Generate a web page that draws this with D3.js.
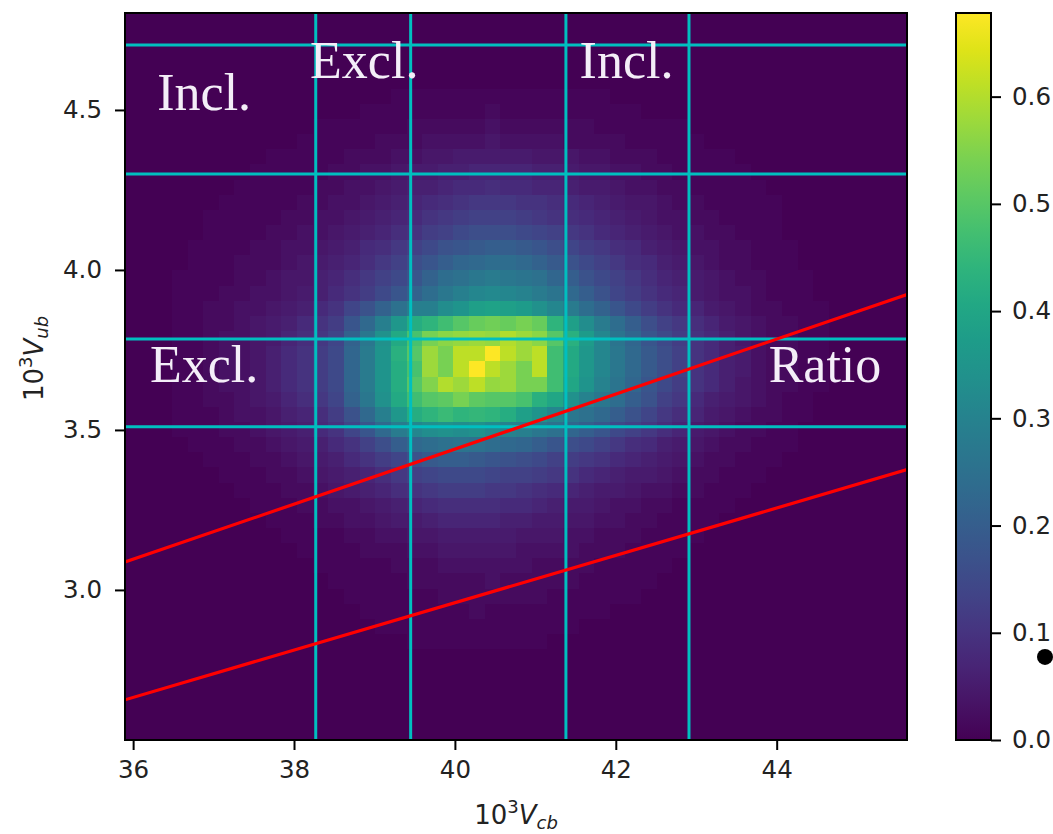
<!DOCTYPE html>
<html><head><meta charset="utf-8">
<script src="https://cdn.jsdelivr.net/npm/d3@7"></script>
<style>
body{margin:0;background:#fff;}
svg text{font-family:"DejaVu Sans",sans-serif;}
</style>
</head><body>
<svg id="chart" width="1053" height="834"></svg>
<script>
// ---------------- data ----------------
const vcbDomain = [35.899, 45.62];
const vubDomain = [2.531, 4.803];
const nBinsVcb = 50;
const nBinsVub = 48;
const colStart = 3;   // first column of histRows
const rowStart = 5;   // first row (from top) of histRows
// density values in hundredths, rows from top to bottom
const histRows = [
[0,0,0,0,0,0,0,0,0,0,0,0,0,0,1,1,1,1,1,1,1,1,1,1,1,1,1,1,0,0,0,0,0,0,0,0,0,0,0,0,0,0],
[0,0,0,0,0,0,0,0,0,0,0,0,1,1,1,1,1,1,1,1,2,1,1,1,1,1,1,1,1,1,0,0,0,0,0,0,0,0,0,0,0,0],
[0,0,0,0,0,0,0,0,0,1,1,1,1,1,1,2,2,2,2,2,3,2,2,2,2,2,2,1,1,1,1,1,1,0,0,0,0,0,0,0,0,0],
[0,0,0,0,0,0,0,0,1,1,1,1,1,2,2,2,3,3,3,3,4,3,3,3,3,2,2,2,2,1,1,1,1,1,0,0,0,0,0,0,0,0],
[0,0,0,0,0,0,1,1,1,1,1,2,2,2,3,3,4,4,5,5,5,5,5,4,4,4,3,3,2,2,2,1,1,1,1,1,0,0,0,0,0,0],
[0,0,0,0,0,1,1,1,1,1,2,2,3,3,4,5,5,6,6,7,7,7,7,6,6,5,4,4,3,3,2,2,1,1,1,1,1,0,0,0,0,0],
[0,0,0,0,1,1,1,1,1,2,2,3,3,4,5,6,6,7,8,8,9,8,8,7,7,6,5,5,4,3,3,2,2,1,1,1,1,1,0,0,0,0],
[0,0,0,1,1,1,1,1,2,2,3,3,4,5,6,7,8,9,10,11,11,11,10,10,9,8,7,6,5,4,4,3,2,2,1,1,1,1,1,0,0,0],
[0,0,1,1,1,1,1,2,2,3,3,4,5,6,7,8,10,11,12,13,13,13,12,11,10,9,8,7,6,5,4,3,3,2,2,1,1,1,1,0,0,0],
[0,0,1,1,1,1,2,2,3,3,4,5,6,7,9,10,12,13,15,16,16,16,15,14,13,11,10,8,7,6,5,4,3,3,2,2,1,1,1,0,0,0],
[0,1,1,1,1,2,2,3,3,4,5,6,8,9,11,13,15,17,18,19,20,20,19,18,16,14,12,11,9,8,6,5,4,3,3,2,2,1,1,1,0,0],
[0,1,1,1,2,2,2,3,4,5,6,7,9,11,13,16,18,20,22,23,24,24,23,21,19,17,15,13,11,9,8,6,5,4,3,2,2,1,1,1,0,0],
[1,1,1,1,2,2,3,4,4,6,7,9,11,13,15,18,21,24,25,27,28,27,26,25,22,20,17,15,13,11,9,7,6,5,4,3,2,2,1,1,1,0],
[1,1,1,2,2,3,3,4,5,6,8,10,12,15,18,21,24,27,29,31,32,31,30,28,26,23,20,17,14,12,10,8,7,5,4,3,3,2,1,1,1,0],
[1,1,2,2,3,3,4,5,6,8,10,14,17,21,25,29,29,33,35,38,39,38,37,34,31,28,24,21,18,15,12,10,8,7,5,4,3,2,2,1,1,1],
[1,1,2,2,3,4,5,6,8,10,12,18,23,29,36,42,44,47,50,52,53,52,54,52,44,38,33,28,24,20,16,13,11,9,7,5,4,3,2,2,1,1],
[1,1,2,3,3,4,5,7,9,11,14,21,27,34,41,48,54,56,57,58,57,60,58,56,50,43,37,31,26,22,18,15,12,10,8,6,4,3,2,2,1,1],
[1,1,2,3,3,4,6,8,10,12,15,22,28,35,43,50,58,54,61,61,68,61,58,61,47,41,36,31,27,23,19,16,13,10,8,6,5,3,2,2,1,1],
[1,1,2,3,3,4,6,8,10,12,15,22,28,35,42,48,58,54,61,68,61,58,54,61,47,41,36,31,27,23,19,16,13,10,8,6,5,3,2,2,1,1],
[1,1,2,3,3,4,6,8,10,12,15,22,28,35,42,50,55,60,58,61,57,58,54,54,47,40,35,30,26,22,18,15,12,10,8,6,4,3,2,2,1,1],
[1,1,2,2,3,4,5,7,9,11,14,21,27,34,41,47,50,51,54,51,50,50,48,43,40,34,30,27,24,20,17,13,11,8,6,5,4,3,2,1,1,0],
[1,1,1,2,3,3,4,6,7,9,12,17,23,29,36,42,44,46,44,45,44,42,38,35,31,27,25,23,20,17,14,11,9,7,5,4,3,2,2,1,1,0],
[1,1,1,2,2,3,4,5,6,8,10,14,18,23,28,31,33,34,33,34,32,30,29,27,25,22,20,18,15,13,11,9,7,5,4,3,2,2,1,1,0,0],
[0,1,1,1,2,2,3,4,5,6,8,10,13,16,20,23,24,25,26,25,24,23,22,20,18,16,15,13,11,9,8,6,5,4,3,2,2,1,1,1,0,0],
[0,0,1,1,1,2,2,3,4,5,6,8,10,12,14,17,19,20,20,19,18,17,16,15,13,12,11,10,8,7,6,5,4,3,2,2,1,1,1,0,0,0],
[0,0,0,1,1,1,2,2,3,4,5,6,7,9,11,13,14,15,15,15,14,13,13,12,11,10,8,7,6,5,5,4,3,2,2,1,1,1,0,0,0,0],
[0,0,0,0,1,1,1,2,2,3,4,5,6,7,9,10,11,12,12,12,11,11,10,9,8,7,6,5,5,4,3,3,2,2,1,1,1,0,0,0,0,0],
[0,0,0,0,0,1,1,1,2,2,3,3,4,5,6,7,8,9,9,9,9,8,8,7,6,5,5,4,3,3,2,2,1,1,1,1,0,0,0,0,0,0],
[0,0,0,0,0,0,1,1,1,2,2,3,3,4,5,5,6,7,7,7,7,6,6,5,5,4,4,3,3,2,2,1,1,1,1,0,0,0,0,0,0,0],
[0,0,0,0,0,0,0,1,1,1,1,2,2,3,3,4,4,5,5,5,5,5,4,4,4,3,3,2,2,2,1,1,1,1,0,0,0,0,0,0,0,0],
[0,0,0,0,0,0,0,0,1,1,1,1,2,2,2,3,3,4,4,4,4,4,3,3,3,3,2,2,2,1,1,1,1,0,0,0,0,0,0,0,0,0],
[0,0,0,0,0,0,0,0,0,1,1,1,1,1,2,2,2,3,3,3,3,3,3,2,2,2,2,1,1,1,1,1,0,0,0,0,0,0,0,0,0,0],
[0,0,0,0,0,0,0,0,0,0,1,1,1,1,1,2,2,2,2,2,3,2,2,2,2,2,1,1,1,1,1,0,0,0,0,0,0,0,0,0,0,0],
[0,0,0,0,0,0,0,0,0,0,0,1,1,1,1,1,1,2,2,2,2,2,2,2,1,1,1,1,1,1,0,0,0,0,0,0,0,0,0,0,0,0],
[0,0,0,0,0,0,0,0,0,0,0,0,1,1,1,1,1,1,1,2,1,1,1,1,1,1,1,1,0,0,0,0,0,0,0,0,0,0,0,0,0,0],
[0,0,0,0,0,0,0,0,0,0,0,0,0,1,1,1,1,1,1,1,1,1,1,1,1,1,0,0,0,0,0,0,0,0,0,0,0,0,0,0,0,0],
[0,0,0,0,0,0,0,0,0,0,0,0,0,0,0,1,1,1,1,1,1,1,1,1,0,0,0,0,0,0,0,0,0,0,0,0,0,0,0,0,0,0]
];
const colorMax = 0.678;
const vcbTicks = [36, 38, 40, 42, 44];
const vubTicks = [3.0, 3.5, 4.0, 4.5];
const cbarTicks = [0.0, 0.1, 0.2, 0.3, 0.4, 0.5, 0.6];
const vcbLines = [38.27, 39.45, 41.38, 42.91];
const vubLines = [3.51, 3.784, 4.30, 4.703];
const ratioLines = [0.074, 0.086];
const labelTexts = ["Incl.", "Excl.", "Incl.", "Excl.", "Ratio"];
const labelVcb = [36.30, 38.20, 41.55, 36.21, 43.90];
const labelVub = [4.50, 4.60, 4.60, 3.65, 3.65];
const markerValue = 0.0775;

// ---------------- layout ----------------
const plot = {l:125, t:13, r:907, b:740};
const cbar = {l:956, r:991, t:13, b:740};
const svg = d3.select("#chart");

const x = d3.scaleLinear().domain(vcbDomain).range([plot.l, plot.r]);
const y = d3.scaleLinear().domain(vubDomain).range([plot.b, plot.t]);
const cy = d3.scaleLinear().domain([0, colorMax]).range([cbar.b, cbar.t]);
const color = v => d3.interpolateViridis(Math.max(0, Math.min(1, v / colorMax)));

svg.append("defs").append("clipPath").attr("id","pclip")
  .append("rect").attr("x",plot.l).attr("y",plot.t)
  .attr("width",plot.r-plot.l).attr("height",plot.b-plot.t);

// heatmap cells
const dX = (vcbDomain[1]-vcbDomain[0])/nBinsVcb;
const dY = (vubDomain[1]-vubDomain[0])/nBinsVub;
const cells = [];
for (let j=0;j<nBinsVub;j++){
  for (let i=0;i<nBinsVcb;i++){
    const rr = j-rowStart, cc = i-colStart;
    let v = 0;
    if (rr>=0 && rr<histRows.length && cc>=0 && cc<histRows[rr].length) v = histRows[rr][cc]/100;
    cells.push({x0: vcbDomain[0]+i*dX, x1: vcbDomain[0]+(i+1)*dX,
                y1: vubDomain[1]-j*dY, y0: vubDomain[1]-(j+1)*dY, v});
  }
}
const gHeat = svg.append("g").attr("clip-path","url(#pclip)");
gHeat.selectAll("rect").data(cells).join("rect")
  .attr("x", d=>x(d.x0)).attr("y", d=>y(d.y1))
  .attr("width", d=>x(d.x1)-x(d.x0)+0.6)
  .attr("height", d=>y(d.y0)-y(d.y1)+0.6)
  .attr("fill", d=>color(d.v))
  .attr("shape-rendering","crispEdges");

// cyan lines
const gLines = svg.append("g").attr("clip-path","url(#pclip)");
gLines.selectAll("line.v").data(vcbLines).join("line").attr("class","v")
  .attr("x1",d=>x(d)).attr("x2",d=>x(d)).attr("y1",plot.t).attr("y2",plot.b)
  .attr("stroke","#00bfbf").attr("stroke-width",3);
gLines.selectAll("line.h").data(vubLines).join("line").attr("class","h")
  .attr("y1",d=>y(d)).attr("y2",d=>y(d)).attr("x1",plot.l).attr("x2",plot.r)
  .attr("stroke","#00bfbf").attr("stroke-width",3);
// red ratio lines
gLines.selectAll("line.r").data(ratioLines).join("line").attr("class","r")
  .attr("x1",x(vcbDomain[0])).attr("y1",d=>y(d*vcbDomain[0]))
  .attr("x2",x(vcbDomain[1])).attr("y2",d=>y(d*vcbDomain[1]))
  .attr("stroke","#ff0000").attr("stroke-width",3.2);

// labels
svg.append("g").selectAll("text").data(labelTexts).join("text")
  .attr("x",(d,i)=>x(labelVcb[i])).attr("y",(d,i)=>y(labelVub[i]))
  .text(d=>d)
  .style("font-family",'"Liberation Serif","Times New Roman",serif')
  .style("font-size","52px").attr("fill","#f4eef8");

// frame
svg.append("rect").attr("x",plot.l).attr("y",plot.t)
  .attr("width",plot.r-plot.l).attr("height",plot.b-plot.t)
  .attr("fill","none").attr("stroke","#000").attr("stroke-width",2);

// axes
const xAxis = svg.append("g").attr("transform",`translate(0,${plot.b})`)
  .call(d3.axisBottom(x).tickValues(vcbTicks).tickSize(10).tickPadding(11).tickFormat(d3.format("d")));
const yAxis = svg.append("g").attr("transform",`translate(${plot.l},0)`)
  .call(d3.axisLeft(y).tickValues(vubTicks).tickSize(10).tickPadding(13).tickFormat(d3.format(".1f")));
[xAxis,yAxis].forEach(a=>{
  a.select(".domain").remove();
  a.selectAll("line").attr("stroke","#000").attr("stroke-width",2);
  a.selectAll("text").style("font-size","24.5px").style("font-family","DejaVu Sans").attr("fill","#222");
});

// axis titles
const xt = svg.append("text").attr("x",(plot.l+plot.r)/2).attr("y",824)
  .attr("text-anchor","middle").style("font-size","26px").attr("fill","#222");
xt.append("tspan").text("10");
xt.append("tspan").attr("dy",-11).style("font-size","18px").text("3");
xt.append("tspan").attr("dy",11).style("font-style","italic").text("V");
xt.append("tspan").attr("dy",5).style("font-size","18px").style("font-style","italic").text("cb");

const yt = svg.append("text").attr("transform",`translate(43,${(plot.t+plot.b)/2-18}) rotate(-90)`)
  .attr("text-anchor","middle").style("font-size","26px").attr("fill","#222");
yt.append("tspan").text("10");
yt.append("tspan").attr("dy",-11).style("font-size","18px").text("3");
yt.append("tspan").attr("dy",11).style("font-style","italic").text("V");
yt.append("tspan").attr("dy",5).style("font-size","18px").style("font-style","italic").text("ub");

// colorbar
const grad = svg.select("defs").append("linearGradient").attr("id","vir")
  .attr("x1","0").attr("y1","1").attr("x2","0").attr("y2","0");
d3.range(0,1.0001,0.05).forEach(t=>{
  grad.append("stop").attr("offset",t).attr("stop-color",d3.interpolateViridis(t));
});
svg.append("rect").attr("x",cbar.l).attr("y",cbar.t).attr("width",cbar.r-cbar.l)
  .attr("height",cbar.b-cbar.t).attr("fill","url(#vir)").attr("stroke","#000").attr("stroke-width",2);
const cAxis = svg.append("g").attr("transform",`translate(${cbar.r},0)`)
  .call(d3.axisRight(cy).tickValues(cbarTicks).tickSize(10).tickPadding(11).tickFormat(d3.format(".1f")));
cAxis.select(".domain").remove();
cAxis.selectAll("line").attr("stroke","#000").attr("stroke-width",2);
cAxis.selectAll("text").style("font-size","24.5px").style("font-family","DejaVu Sans").attr("fill","#222");

// marker dot
svg.append("circle").attr("cx",cbar.r+54).attr("cy",cy(markerValue)).attr("r",8).attr("fill","#000");
</script>
</body></html>
